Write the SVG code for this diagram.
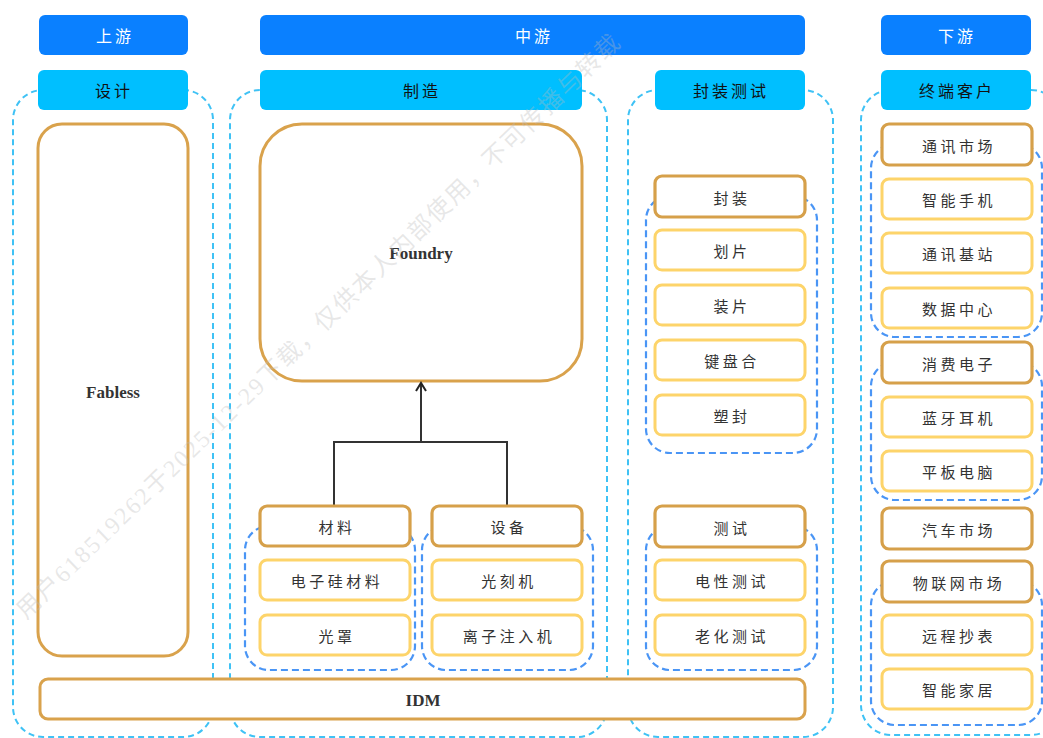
<svg xmlns="http://www.w3.org/2000/svg" width="1043" height="738" viewBox="0 0 1043 738">
<defs>
<style>
.hd1{fill:#0a80ff;}
.hd2{fill:#00bfff;}
.ht1{fill:#ffffff;font-family:"Noto Sans CJK SC",sans-serif;font-size:16px;letter-spacing:3px;text-anchor:middle;dominant-baseline:central;}
.ht2{fill:#111;font-family:"Noto Sans CJK SC",sans-serif;font-size:16px;letter-spacing:3px;text-anchor:middle;dominant-baseline:central;}
.outer{fill:none;stroke:#3fc2f5;stroke-width:2;stroke-dasharray:6 4;}
.inner{fill:none;stroke:#4a95f5;stroke-width:2.2;stroke-dasharray:7 4;}
.big{fill:#fff;stroke:#d9a24c;stroke-width:3;}
.cat{fill:#fff;stroke:#d6a04a;stroke-width:3.2;}
.item{fill:#fff;stroke:#fdd46a;stroke-width:3;}
.t{fill:#333;font-family:"Noto Sans CJK SC",sans-serif;font-size:15px;letter-spacing:3.5px;text-anchor:middle;dominant-baseline:central;}
.lt{fill:#333;font-family:"Liberation Serif",serif;font-weight:bold;font-size:17px;text-anchor:middle;dominant-baseline:central;}
.conn{fill:none;stroke:#333;stroke-width:2;}
.wm{fill:#bbbbbb;fill-opacity:0.35;font-family:"Liberation Serif","Noto Sans CJK SC",serif;font-size:24px;letter-spacing:2px;}
</style>
<marker id="arr" viewBox="0 0 12 12" refX="10" refY="6" markerWidth="12" markerHeight="12" markerUnits="userSpaceOnUse" orient="auto">
<path d="M2,1 L10,6 L2,11" fill="none" stroke="#222" stroke-width="2"/>
</marker>
</defs>
<rect width="1043" height="738" fill="#fff"/>

<!-- outer column containers -->
<g id="containers">
<rect class="outer" x="13" y="90" width="200" height="647" rx="30"/>
<rect class="outer" x="230" y="90" width="377" height="647" rx="30"/>
<rect class="outer" x="628" y="90" width="205" height="647" rx="30"/>
<rect class="outer" x="861" y="90" width="200" height="645" rx="30"/>
</g>

<!-- inner dashed groups -->
<g id="groups">
<rect class="inner" x="245" y="526" width="170" height="144" rx="24"/>
<rect class="inner" x="422" y="526" width="171" height="144" rx="24"/>
<rect class="inner" x="646" y="196" width="171" height="257" rx="24"/>
<rect class="inner" x="646" y="526" width="171" height="144" rx="24"/>
<rect class="inner" x="871" y="144" width="171" height="193" rx="24"/>
<rect class="inner" x="871" y="362" width="171" height="138" rx="24"/>
<rect class="inner" x="871" y="581" width="171" height="144" rx="24"/>
</g>

<!-- headers -->
<g id="h-upstream"><rect class="hd1" x="39" y="15" width="149" height="40" rx="6"/><text class="ht1" x="115" y="35">上游</text></g>
<g id="h-midstream"><rect class="hd1" x="260" y="15" width="545" height="40" rx="6"/><text class="ht1" x="534" y="35">中游</text></g>
<g id="h-downstream"><rect class="hd1" x="881" y="15" width="150" height="40" rx="6"/><text class="ht1" x="957" y="35">下游</text></g>

<g id="h-design"><rect class="hd2" x="38" y="70" width="150" height="40" rx="6"/><text class="ht2" x="114" y="90">设计</text></g>
<g id="h-manufacture"><rect class="hd2" x="260" y="70" width="322" height="40" rx="6"/><text class="ht2" x="422" y="90">制造</text></g>
<g id="h-package"><rect class="hd2" x="655" y="70" width="150" height="40" rx="6"/><text class="ht2" x="731" y="90">封装测试</text></g>
<g id="h-terminal"><rect class="hd2" x="881" y="70" width="150" height="40" rx="6"/><text class="ht2" x="957" y="90">终端客户</text></g>

<!-- big boxes -->
<g id="fabless"><rect class="big" x="38" y="124" width="150" height="532" rx="24"/><text class="lt" x="113" y="392">Fabless</text></g>
<g id="foundry"><rect class="big" x="260" y="124" width="322" height="257" rx="42"/><text class="lt" x="421" y="253">Foundry</text></g>
<g id="idm"><rect class="big" x="40" y="679" width="765" height="40" rx="8"/><text class="lt" x="423" y="700">IDM</text></g>

<!-- connectors -->
<g id="connectors">
<polyline class="conn" points="334,507 334,442 507,442 507,507"/>
<line class="conn" x1="421" y1="442" x2="421" y2="383" marker-end="url(#arr)"/>
</g>

<!-- manufacturing -->
<g id="n-cailiao"><rect class="cat" x="260" y="506" width="150" height="40" rx="7"/><text class="t" x="337" y="526">材料</text></g>
<g id="n-dianzigui"><rect class="item" x="260" y="560" width="150" height="40" rx="7"/><text class="t" x="337" y="580">电子硅材料</text></g>
<g id="n-guangzhao"><rect class="item" x="260" y="615" width="150" height="40" rx="7"/><text class="t" x="337" y="635">光罩</text></g>
<g id="n-shebei"><rect class="cat" x="432" y="506" width="150" height="40" rx="7"/><text class="t" x="509" y="526">设备</text></g>
<g id="n-guangkeji"><rect class="item" x="432" y="560" width="150" height="40" rx="7"/><text class="t" x="509" y="580">光刻机</text></g>
<g id="n-lizi"><rect class="item" x="432" y="615" width="150" height="40" rx="7"/><text class="t" x="509" y="635">离子注入机</text></g>

<!-- packaging & test -->
<g id="n-fengzhuang"><rect class="cat" x="655" y="176" width="150" height="41" rx="7"/><text class="t" x="732" y="197">封装</text></g>
<g id="n-huapian"><rect class="item" x="655" y="230" width="150" height="40" rx="7"/><text class="t" x="732" y="250">划片</text></g>
<g id="n-zhuangpian"><rect class="item" x="655" y="285" width="150" height="40" rx="7"/><text class="t" x="732" y="305">装片</text></g>
<g id="n-jianhe"><rect class="item" x="655" y="340" width="150" height="40" rx="7"/><text class="t" x="732" y="360">键盘合</text></g>
<g id="n-sufeng"><rect class="item" x="655" y="395" width="150" height="40" rx="7"/><text class="t" x="732" y="415">塑封</text></g>
<g id="n-ceshi"><rect class="cat" x="655" y="506" width="150" height="41" rx="7"/><text class="t" x="732" y="527">测试</text></g>
<g id="n-dianxing"><rect class="item" x="655" y="560" width="150" height="40" rx="7"/><text class="t" x="732" y="580">电性测试</text></g>
<g id="n-laohua"><rect class="item" x="655" y="615" width="150" height="40" rx="7"/><text class="t" x="732" y="635">老化测试</text></g>

<!-- terminal customers -->
<g id="n-tongxun"><rect class="cat" x="882" y="124" width="150" height="41" rx="7"/><text class="t" x="959" y="145">通讯市场</text></g>
<g id="n-shouji"><rect class="item" x="882" y="179" width="150" height="40" rx="7"/><text class="t" x="959" y="199">智能手机</text></g>
<g id="n-jizhan"><rect class="item" x="882" y="233" width="150" height="40" rx="7"/><text class="t" x="959" y="253">通讯基站</text></g>
<g id="n-shuju"><rect class="item" x="882" y="288" width="150" height="40" rx="7"/><text class="t" x="959" y="308">数据中心</text></g>
<g id="n-xiaofei"><rect class="cat" x="882" y="342" width="150" height="41" rx="7"/><text class="t" x="959" y="363">消费电子</text></g>
<g id="n-lanya"><rect class="item" x="882" y="397" width="150" height="40" rx="7"/><text class="t" x="959" y="417">蓝牙耳机</text></g>
<g id="n-pingban"><rect class="item" x="882" y="451" width="150" height="40" rx="7"/><text class="t" x="959" y="471">平板电脑</text></g>
<g id="n-qiche"><rect class="cat" x="882" y="508" width="150" height="41" rx="7"/><text class="t" x="959" y="529">汽车市场</text></g>
<g id="n-wulian"><rect class="cat" x="882" y="561" width="150" height="41" rx="7"/><text class="t" x="959" y="582">物联网市场</text></g>
<g id="n-yuancheng"><rect class="item" x="882" y="615" width="150" height="40" rx="7"/><text class="t" x="959" y="635">远程抄表</text></g>
<g id="n-jiaju"><rect class="item" x="882" y="669" width="150" height="40" rx="7"/><text class="t" x="959" y="689">智能家居</text></g>

<!-- watermark -->
<text class="wm" transform="translate(26,620) rotate(-44)">用户618519262于2025-12-29下载，仅供本人内部使用，不可传播与转载</text>
</svg>
